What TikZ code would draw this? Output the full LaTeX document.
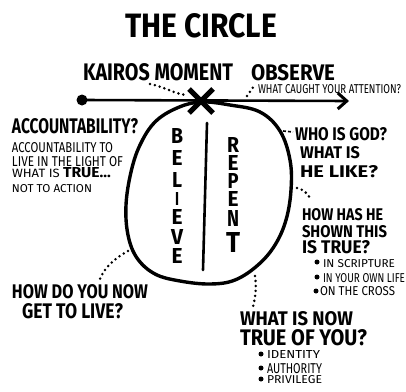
\documentclass[tikz,border=0pt]{standalone}
\usepackage{fontspec}
\setmainfont{Fira Sans}
\usetikzlibrary{arrows.meta}
\newcommand\TL[6]{\node[txt] (#1) at (#2,#3) {\resizebox{#4pt}{#5pt}{#6}};}
\tikzset{
  txt/.style={anchor=north west, inner sep=0pt, outer sep=0pt},
  letter/.style={inner sep=0pt, outer sep=0pt},
  leader/.style={line width=2.8pt, line cap=round, dash pattern=on 0pt off 5pt},
  bullet/.style={circle, fill=black, inner sep=0pt, minimum size=5pt},
  stroke/.style={line width=3.4pt, line cap=round, line join=round},
}
\begin{document}
\begin{tikzpicture}[x=1pt, y=-1pt]
\useasboundingbox (0,0) rectangle (406,391);
% title
\TL{title}{125}{13}{152}{24}{\bfseries THE CIRCLE}
% time line
\node[circle, fill=black, inner sep=0pt, minimum size=11pt] (dot) at (82,100) {};
\coordinate (tip) at (349,101);
\draw[line width=2.6pt, -{Straight Barb[length=9pt, width=16pt, line width=3pt]}] (dot.center) -- (tip);
% circle
\draw[stroke] plot[smooth cycle, tension=0.62] coordinates {
  (201,102) (230,105) (260,112) (280,131) (290,160) (291,190) (286,220)
  (275,245) (258,265) (235,280) (210,284) (180,281) (155,274) (137,258)
  (128,235) (126,205) (131,172) (140,145) (155,122) (177,108)};
% X mark
\coordinate (xm) at (201,101);
\draw[line width=5pt] ([shift={(-12,-12)}]xm) -- ([shift={(12,12)}]xm);
\draw[line width=5pt] ([shift={(12,-12)}]xm) -- ([shift={(-12,12)}]xm);
% divider
\coordinate (dtop) at (207,123);
\coordinate (dbot) at (203,270);
\draw[line width=2.6pt, line cap=round] (dtop) -- (dbot);
% BELIEVE
\foreach \l/\y/\w/\h [count=\i] in {B/135.5/12/15,E/158/11/15,L/180/10/15,I/199/4/13,E/217/11/15,V/237/12/15,E/256/11/15}
  \node[letter] (bel\i) at (177,\y) {\resizebox{\w pt}{\h pt}{\bfseries \l}};
% REPENT
\foreach \l/\y/\w/\h [count=\i] in {R/145/12/15,E/163/11/15,P/181/11/15,E/199/11/15,N/218/12/16,T/242/14/20}
  \node[letter] (rep\i) at (233,\y) {\resizebox{\w pt}{\h pt}{\bfseries \l}};
% top labels
\TL{kairos}{83}{63}{150}{17}{\bfseries KAIROS MOMENT}
\TL{observe}{251}{64}{84}{16}{\bfseries OBSERVE}
\TL{caught}{258}{84}{143}{9}{\mdseries WHAT CAUGHT YOUR ATTENTION?}
\coordinate (k1) at (150,84); \coordinate (k2) at (186,95);
\draw[leader] (k1) .. controls (165,87) and (175,94) .. (k2);
\coordinate (o1) at (247,96); \coordinate (o2) at (254,86);
\draw[leader] (o1) -- (o2);
% accountability
\TL{acc}{12}{118}{126}{15}{\bfseries ACCOUNTABILITY?}
\TL{acc1}{12}{142}{101}{10}{ACCOUNTABILITY TO}
\TL{acc2}{12}{156}{111}{10}{LIVE IN THE LIGHT OF}
\TL{acc3}{12}{167}{99}{10}{WHAT IS {\bfseries\large TRUE...}}
\TL{acc4}{12}{184}{80}{8}{NOT TO ACTION}
% who is god
\TL{who}{295}{127}{92}{13}{\bfseries WHO IS GOD?}
\TL{who1}{300}{146}{60}{12}{\bfseries WHAT IS}
\TL{who2}{300}{165}{78}{12}{\bfseries HE LIKE?}
\coordinate (w1) at (283,131); \coordinate (w2) at (293,132);
\draw[line width=1.6pt, dash pattern=on 3pt off 2pt] (w1) -- (w2);
% how has he
\TL{how}{302}{208}{81}{12}{\bfseries HOW HAS HE}
\TL{how1}{302}{225}{85}{12}{\bfseries SHOWN THIS}
\TL{how2}{302}{240}{68}{13}{\bfseries IS TRUE?}
\coordinate (h1) at (297,188); \coordinate (h2) at (311,201);
\draw[leader] (h1) .. controls (305,190) and (309,195) .. (h2);
\node[bullet] (bu1) at (317,262) {};
\node[bullet] (bu2) at (317,277) {};
\node[bullet] (bu3) at (316,291) {};
\TL{s1}{323}{259}{72}{8}{IN SCRIPTURE}
\TL{s2}{323}{273}{82}{9}{IN YOUR OWN LIFE}
\TL{s3}{320}{286}{75}{9}{ON THE CROSS}
% what is now true
\coordinate (n1) at (255,276); \coordinate (n2) at (253,307);
\draw[leader] (n1) .. controls (257,288) and (255,298) .. (n2);
\TL{now}{240}{311}{113}{14}{\bfseries WHAT IS NOW}
\TL{now1}{240}{329}{127}{16}{\bfseries TRUE OF YOU?}
\node[bullet] (bi1) at (261,354) {};
\node[bullet] (bi2) at (261,368) {};
\node[bullet] (bi3) at (261,379) {};
\TL{i1}{267}{350}{53}{8}{IDENTITY}
\TL{i2}{267}{363}{55}{10}{AUTHORITY}
\TL{i3}{267}{375}{55}{8}{PRIVILEGE}
% how do you now
\coordinate (g1) at (128,251); \coordinate (g2) at (100,279);
\draw[leader] (g1) .. controls (115,258) and (104,268) .. (g2);
\TL{live}{12}{284}{136}{14}{\bfseries HOW DO YOU NOW}
\TL{live1}{22}{303}{101}{15}{\bfseries GET TO LIVE?}
\end{tikzpicture}
\end{document}
